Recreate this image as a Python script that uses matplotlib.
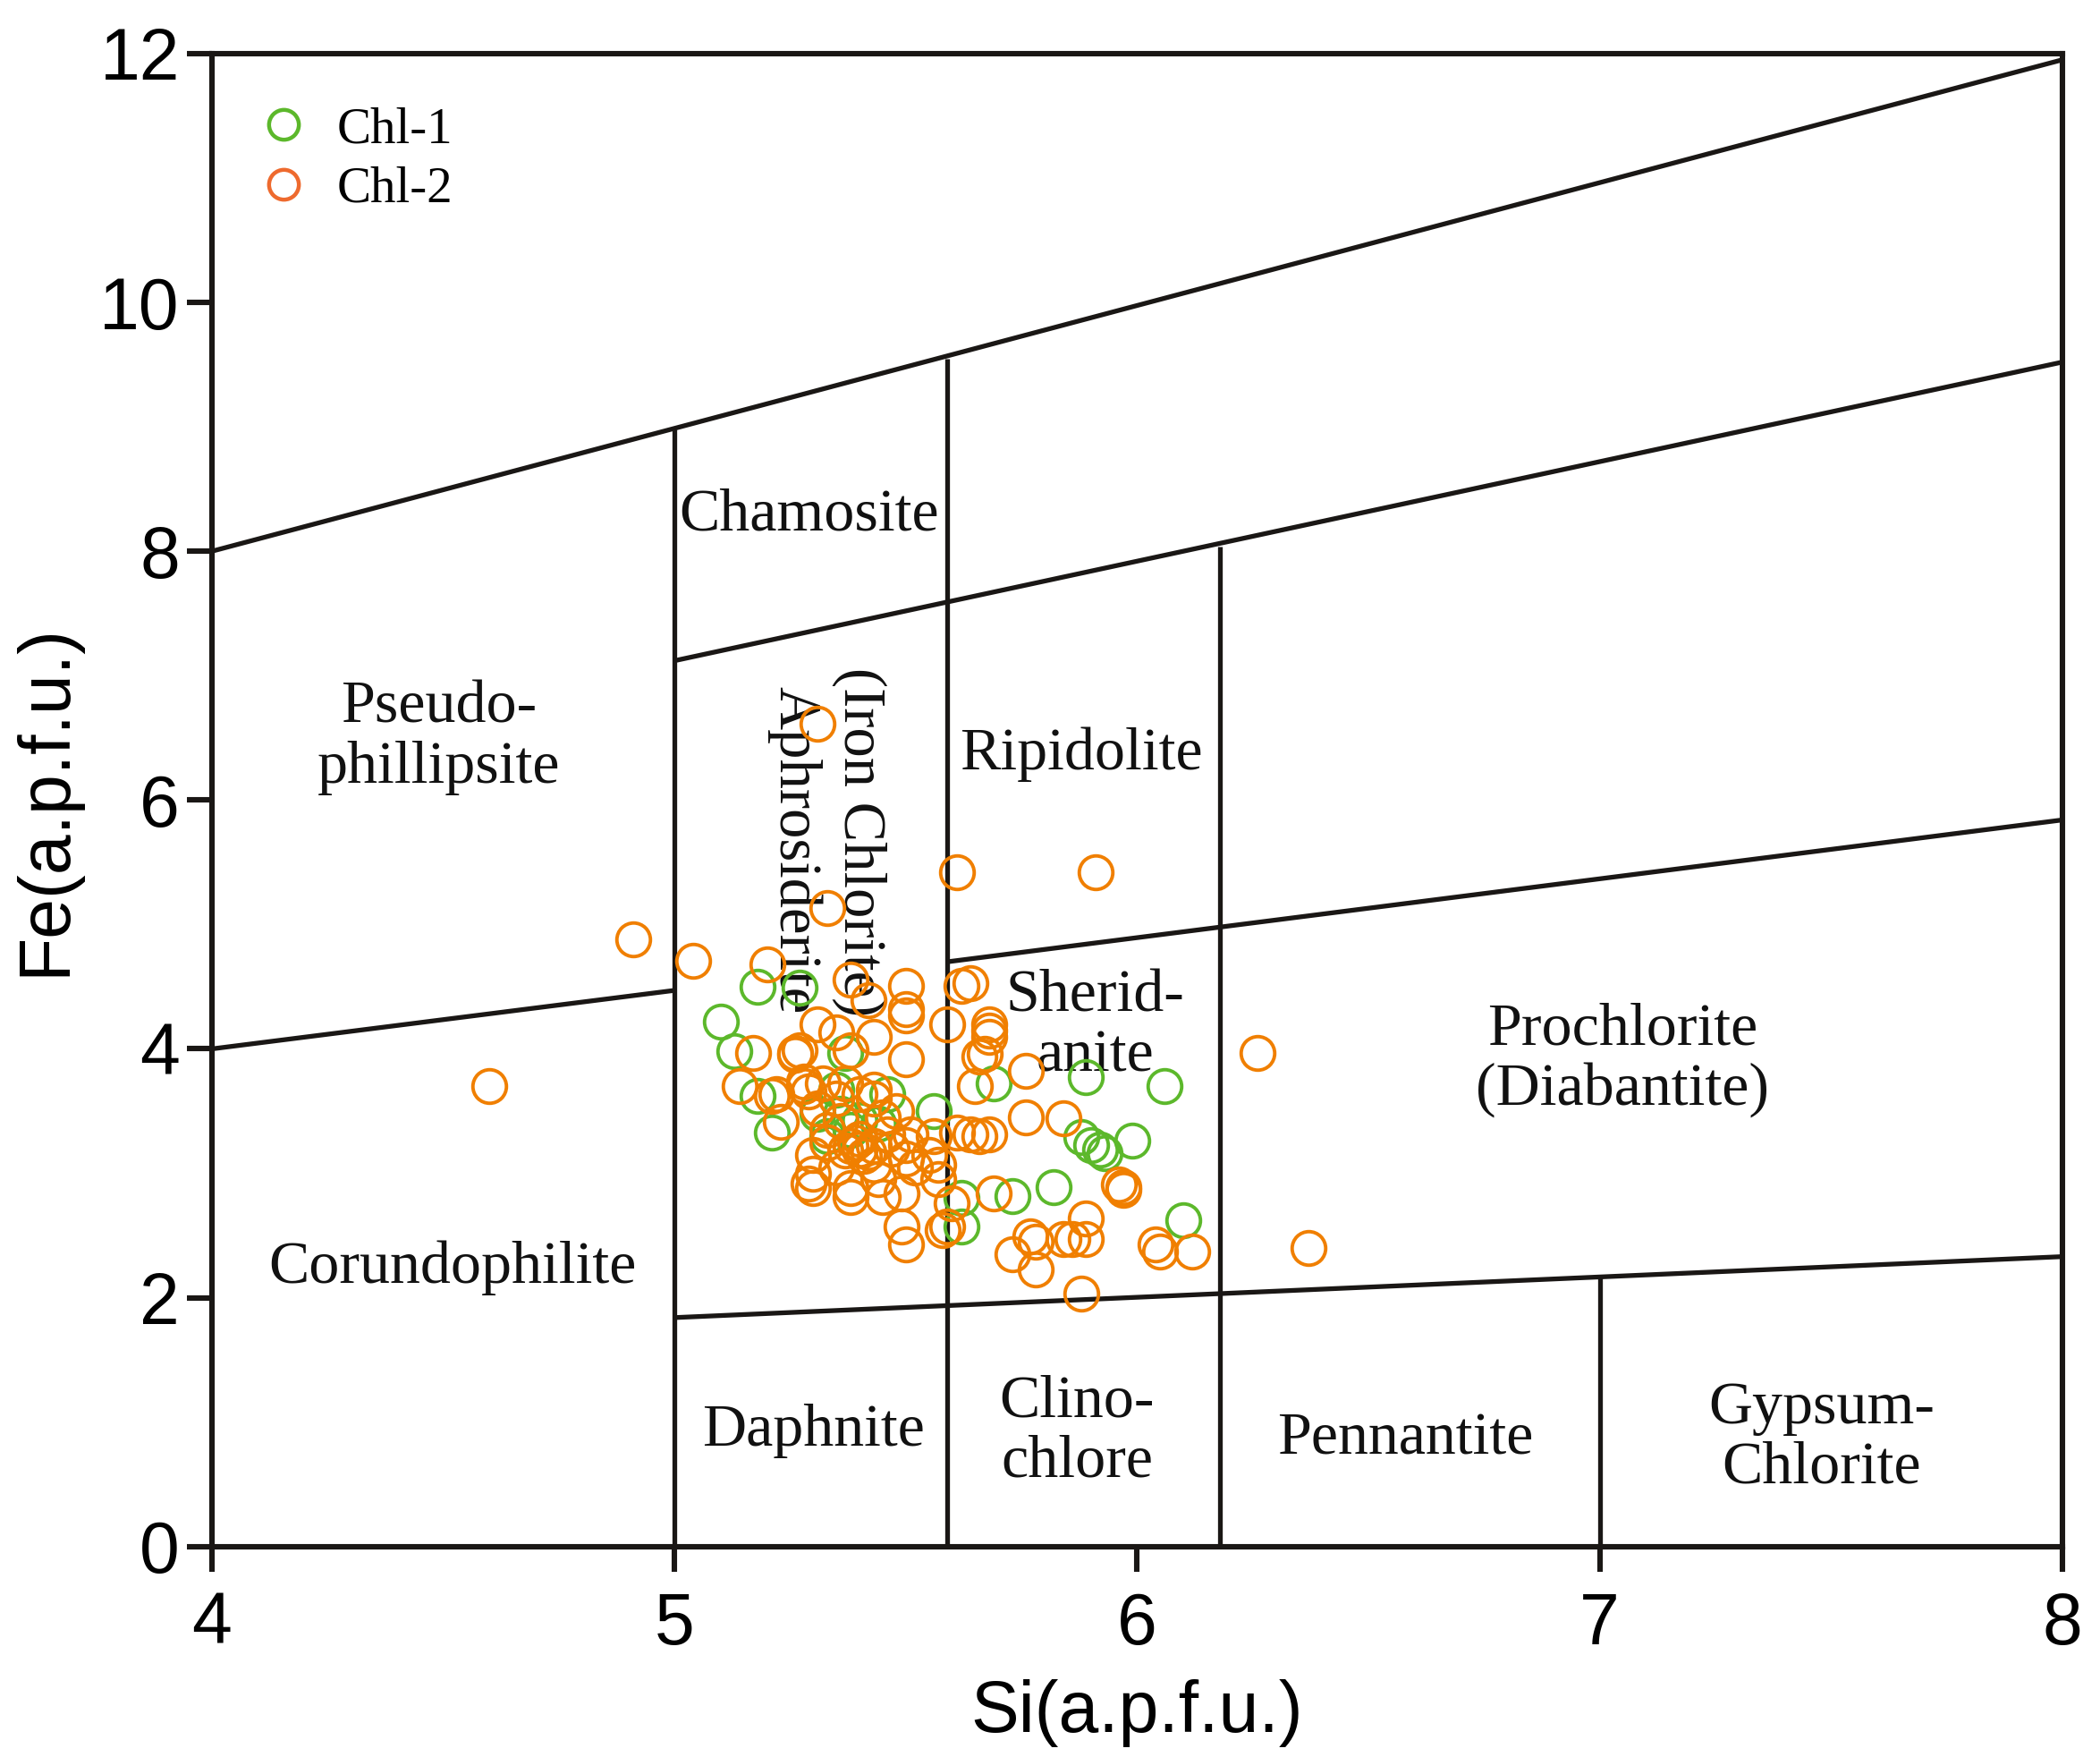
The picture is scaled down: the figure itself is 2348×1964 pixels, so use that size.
import matplotlib
matplotlib.use("Agg")
import matplotlib.pyplot as plt
from matplotlib.lines import Line2D

# ---------------- data ----------------
chl1_si = [5.10, 5.13, 5.18, 5.27, 5.18, 5.21, 5.35, 5.31, 5.36, 5.40, 5.37, 5.46,
           5.56, 5.62, 5.62, 5.69, 5.73, 5.82, 5.89, 6.06, 5.88, 5.90, 5.92, 5.93,
           5.99, 6.10, 5.33, 5.38, 5.44]
chl1_fe = [4.22, 3.98, 4.50, 4.49, 3.62, 3.33, 3.67, 3.48, 3.48, 3.43, 3.97, 3.64,
           3.50, 2.57, 2.80, 3.72, 2.82, 2.89, 3.77, 3.70, 3.29, 3.23, 3.19, 3.16,
           3.26, 2.62, 3.30, 3.35, 3.40]

chl2_si = [4.60, 4.91, 5.04, 5.31, 5.33, 5.61, 5.91, 6.26, 6.37, 6.12, 6.04, 6.05,
           5.88, 5.97, 5.96, 5.97, 5.89, 5.89, 5.86, 5.84, 5.77, 5.78, 5.78, 5.73,
           5.84, 5.76, 5.76, 5.69, 5.65, 5.68, 5.68, 5.68, 5.67, 5.66, 5.64, 5.62,
           5.59, 5.64, 5.66, 5.68, 5.61, 5.60, 5.59,
           5.20, 5.38, 5.42, 5.50, 5.50, 5.50, 5.17, 5.26, 5.27, 5.26, 5.31, 5.35,
           5.38, 5.43, 5.50, 5.14, 5.22, 5.43, 5.23, 5.21, 5.28, 5.28, 5.29, 5.40,
           5.37, 5.32, 5.43, 5.48, 5.40, 5.38, 5.42, 5.39, 5.41, 5.37, 5.43, 5.40,
           5.30, 5.30, 5.30, 5.29, 5.38, 5.38, 5.45, 5.49, 5.49, 5.50, 5.58, 5.50,
           5.50, 5.51, 5.57, 5.57, 5.46, 5.43, 5.35, 5.45,
           5.33, 5.36, 5.31, 5.35, 5.47, 5.52, 5.55, 5.33, 5.44, 5.56]
chl2_fe = [3.70, 4.88, 4.71, 6.61, 5.13, 5.42, 5.42, 3.97, 2.40, 2.37, 2.43, 2.37,
           2.03, 2.89, 2.91, 2.87, 2.64, 2.47, 2.47, 2.47, 2.49, 2.45, 2.23, 2.35,
           3.44, 3.45, 3.82, 2.84, 3.70, 4.20, 4.15, 4.10, 3.96, 3.94, 4.53, 4.51,
           4.20, 3.31, 3.30, 3.31, 3.33, 2.76, 2.57,
           4.68, 4.56, 4.39, 4.51, 4.32, 4.27, 3.97, 3.97, 3.99, 3.95, 4.20, 4.13,
           3.99, 4.10, 3.92, 3.70, 3.64, 3.67, 3.41, 3.62, 3.70, 3.74, 3.66, 3.64,
           3.72, 3.72, 3.60, 3.50, 3.19, 3.22, 3.17, 3.25, 3.14, 3.18, 3.22, 3.28,
           3.15, 3.00, 2.88, 2.92, 2.88, 2.81, 2.81, 2.84, 2.57, 2.43, 2.54, 3.12,
           3.23, 3.31, 2.95, 3.07, 3.31, 3.07, 3.05, 3.45,
           3.35, 3.42, 3.52, 3.60, 3.20, 3.05, 3.15, 3.25, 2.95, 3.30]

# classification boundaries (Si, Fe) pairs
boundary_lines = [
    ([4.0, 8.0], [8.0, 11.95]),
    ([5.0, 8.0], [7.12, 9.52]),
    ([5.59, 8.0], [4.70, 5.84]),
    ([4.0, 5.0], [4.0, 4.47]),
    ([5.0, 8.0], [1.84, 2.33]),
    ([5.0, 5.0], [0.0, 8.98]),
    ([5.59, 5.59], [0.0, 9.55]),
    ([6.18, 6.18], [0.0, 8.04]),
    ([7.0, 7.0], [0.0, 2.17]),
]

field_names = ["Chamosite", "Pseudo-\nphillipsite", "Ripidolite", "Sherid-\nanite",
               "Prochlorite\n(Diabantite)", "Corundophilite", "Daphnite",
               "Clino-\nchlore", "Pennantite", "Gypsum-\nChlorite"]
field_si = [5.29, 4.49, 5.88, 5.91, 7.05, 4.52, 5.30, 5.87, 6.58, 7.48]
field_fe = [8.29, 6.50, 6.37, 4.18, 3.91, 2.24, 0.93, 0.92, 0.86, 0.87]

rot_names = ["Aphrosiderite", "(Iron Chlorite)"]
rot_si = [5.26, 5.40]
rot_fe = [5.60, 5.66]

x_ticks = [4, 5, 6, 7, 8]
y_ticks = [0, 2, 4, 6, 8, 10, 12]

GREEN = "#5CB82B"
ORANGE = "#F07F00"
LEG_ORANGE = "#EE6A2E"
INK = "#1a1715"
SERIF = "Liberation Serif"
SANS = "Liberation Sans"

# ---------------- figure ----------------
fig = plt.figure(figsize=(11.74, 9.82), dpi=200)
ax = fig.add_axes([0.1009, 0.1198, 0.8811, 0.8497])

for xs, ys in boundary_lines:
    ax.plot(xs, ys, color=INK, lw=1.9, solid_capstyle="butt", zorder=2)

for name, x, y in zip(field_names, field_si, field_fe):
    ax.text(x, y, name, family=SERIF, fontsize=24.5, ha="center", va="center",
            linespacing=1.12, color="#111111", zorder=3)
for name, x, y in zip(rot_names, rot_si, rot_fe):
    ax.text(x, y, name, family=SERIF, fontsize=24, ha="center", va="center",
            rotation=270, color="#111111", zorder=3)

ax.plot(chl1_si, chl1_fe, ls="none", marker="o", ms=13.5, mfc="none",
        mec=GREEN, mew=1.4, zorder=4)
ax.plot(chl2_si, chl2_fe, ls="none", marker="o", ms=13.5, mfc="none",
        mec=ORANGE, mew=1.4, zorder=5)

handles = [Line2D([], [], ls="none", marker="o", ms=12, mfc="none", mec=GREEN, mew=1.6),
           Line2D([], [], ls="none", marker="o", ms=12, mfc="none", mec=LEG_ORANGE, mew=1.6)]
leg = ax.legend(handles, ["Chl-1", "Chl-2"], loc="upper left",
                bbox_to_anchor=(0.014, 0.978), frameon=False, handlelength=1.0,
                handletextpad=0.55, labelspacing=0.25, borderaxespad=0,
                prop={"family": SERIF, "size": 20.5})

ax.set_xlim(4, 8)
ax.set_ylim(0, 12)
ax.set_xticks(x_ticks)
ax.set_yticks(y_ticks)
ax.set_xticklabels([str(v) for v in x_ticks], family=SANS, fontsize=29)
ax.set_yticklabels([str(v) for v in y_ticks], family=SANS, fontsize=29)
ax.tick_params(direction="out", length=10, width=2.2, pad=3, color=INK)
ax.tick_params(axis="x", pad=8)
for s in ax.spines.values():
    s.set_linewidth(2.2)
    s.set_color(INK)

ax.set_xlabel("Si(a.p.f.u.)", family=SANS, fontsize=29, labelpad=8)
ax.set_ylabel("Fe(a.p.f.u.)", family=SANS, fontsize=29, labelpad=8)

fig.savefig("out.png", dpi=200)
